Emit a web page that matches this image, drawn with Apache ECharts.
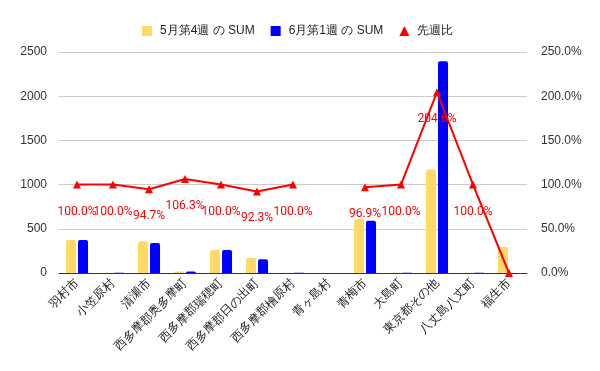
<!DOCTYPE html>
<html><head><meta charset="utf-8">
<script src="https://cdn.jsdelivr.net/npm/echarts@6/dist/echarts.min.js"></script>
<style>html,body{margin:0;padding:0;background:#fff}#c{width:600px;height:371px}</style>
</head><body><div id="c"></div>
<script>
const categories = ['羽村市','小笠原村','清瀬市','西多摩郡奥多摩町','西多摩郡瑞穂町','西多摩郡日の出町','西多摩郡檜原村','青ヶ島村','青梅市','大島町','東京都その他','八丈島八丈町','福生市'];
const week4May = [373, 2, 358, 16, 260, 169, 2, 0, 610, 2, 1170, 2, 294];
const week1Jun = [373, 2, 339, 17, 260, 156, 2, 0, 591, 2, 2394, 2, 0];
const ratio = [100.0, 100.0, 94.7, 106.3, 100.0, 92.3, 100.0, null, 96.9, 100.0, 204.6, 100.0, 0.0];
const leftTicks = [0, 500, 1000, 1500, 2000, 2500];
const rightTicks = [0, 50, 100, 150, 200, 250];

const chart = echarts.init(document.getElementById('c'));
const font = '"Liberation Sans", Arial, sans-serif';
chart.setOption({
  animation: false,
  textStyle: { fontFamily: font },
  legend: {
    top: 20, left: 137, itemWidth: 10, itemHeight: 10, itemGap: 16,
    textStyle: { fontSize: 12, color: '#222', fontFamily: font, padding: [0, 0, 0, 3] },
    data: [
      { name: '5月第4週 の SUM', icon: 'rect' },
      { name: '6月第1週 の SUM', icon: 'rect' },
      { name: '先週比', icon: 'triangle', itemStyle: { color: '#FF0000' } }
    ]
  },
  grid: { left: 59, right: 73, top: 52, bottom: 98 },
  xAxis: {
    type: 'category', data: categories, boundaryGap: true,
    axisLine: { lineStyle: { color: '#333' } },
    axisTick: { show: false },
    axisLabel: { rotate: 45, interval: 0, fontSize: 12, color: '#222', margin: 8, fontFamily: font }
  },
  yAxis: [
    { type: 'value', min: leftTicks[0], max: leftTicks[leftTicks.length - 1], interval: 500,
      axisLine: { show: false }, axisTick: { show: false },
      axisLabel: { fontSize: 12, color: '#333', margin: 12, fontFamily: font, formatter: v => String(v) },
      splitLine: { lineStyle: { color: '#ccc' } } },
    { type: 'value', min: rightTicks[0], max: rightTicks[rightTicks.length - 1], interval: 50,
      axisLine: { show: false }, axisTick: { show: false },
      axisLabel: { fontSize: 12, color: '#333', margin: 14, fontFamily: font, formatter: v => v.toFixed(1) + '%' },
      splitLine: { show: false } }
  ],
  series: [
    { name: '5月第4週 の SUM', type: 'bar', data: week4May, barWidth: 10, barGap: '20%',
      itemStyle: { color: '#FFD966', borderRadius: [2, 2, 0, 0] } },
    { name: '6月第1週 の SUM', type: 'bar', data: week1Jun, barWidth: 10,
      itemStyle: { color: '#0000FF', borderRadius: [2, 2, 0, 0] } },
    { name: '先週比', type: 'line', yAxisIndex: 1, data: ratio, connectNulls: false,
      symbol: 'triangle', symbolSize: 8,
      lineStyle: { color: '#FF0000', width: 2 }, itemStyle: { color: '#FF0000' },
      label: { show: true, position: 'bottom', distance: 17, color: '#FF0000', fontSize: 12,
        fontFamily: 'Roboto, sans-serif',
        formatter: p => (p.value == null || p.value === 0) ? '' : p.value.toFixed(1) + '%' } }
  ]
});
</script></body></html>
